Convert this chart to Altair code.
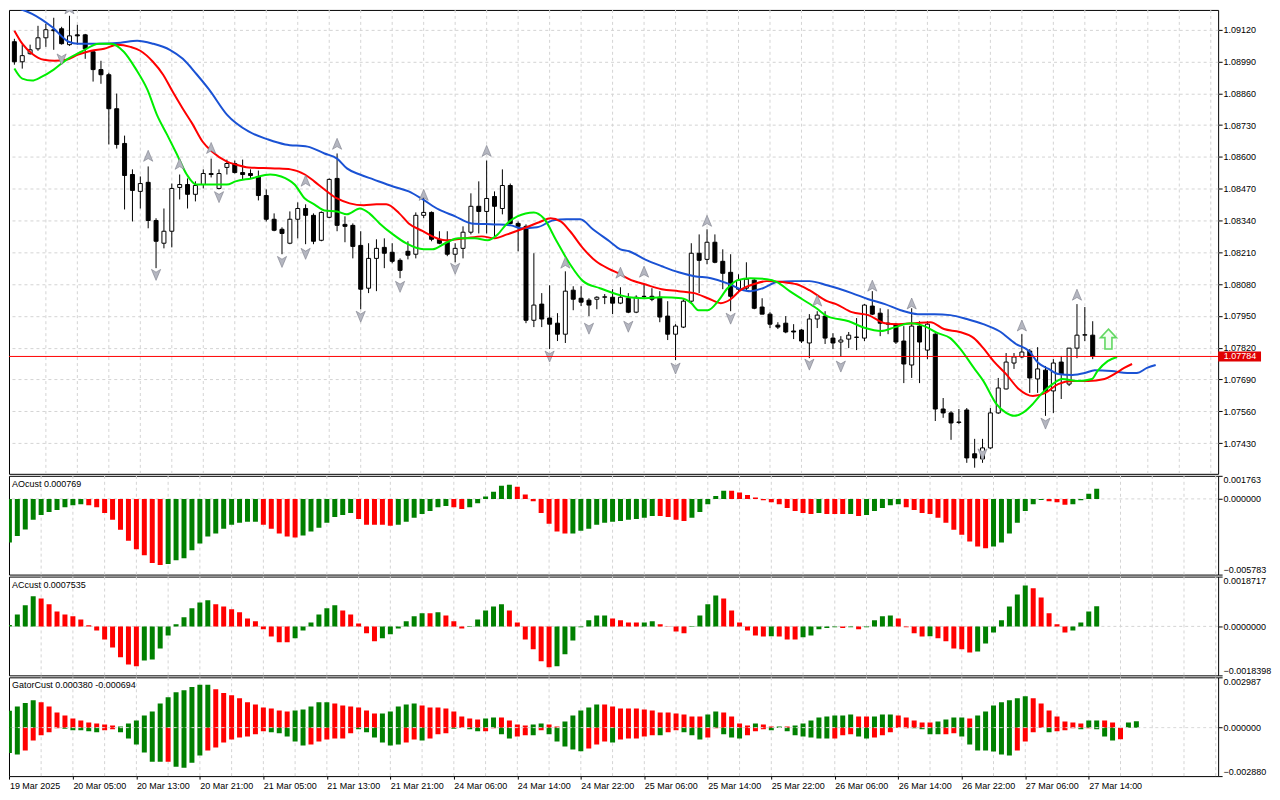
import json
import altair as alt
import pandas as pd

# ---------------- price candles (H1) ----------------
opens = [
1.09071,1.08989,1.09022,1.09042,1.09087,1.09120,1.09124,1.09059,1.09099,1.09099,
1.09030,1.08957,1.08936,1.08797,1.08655,1.08528,1.08459,1.08496,1.08340,1.08247,
1.08296,1.08475,1.08487,1.08447,1.08487,1.08528,1.08471,1.08557,1.08573,1.08536,
1.08532,1.08520,1.08442,1.08345,1.08304,1.08247,1.08345,1.08389,1.08361,1.08259,
1.08353,1.08512,1.08324,1.08320,1.08238,1.08063,1.08185,1.08230,1.08210,1.08177,
1.08214,1.08202,1.08361,1.08373,1.08263,1.08251,1.08202,1.08226,1.08292,1.08398,
1.08377,1.08438,1.08389,1.08483,1.08328,1.08316,1.07932,1.07998,1.07941,1.07920,
1.07875,1.08055,1.08022,1.08014,1.08018,1.08026,1.08026,1.08002,1.08022,1.07965,
1.08030,1.08030,1.08026,1.07949,1.07875,1.07904,1.08010,1.08206,1.08181,1.08251,
1.08173,1.08128,1.08059,1.08063,1.08096,1.07986,1.07957,1.07912,1.07920,1.07888,
1.07892,1.07839,1.07937,1.07949,1.07859,1.07843,1.07855,1.07863,1.07859,1.07990,
1.07961,1.07920,1.07916,1.07847,1.07749,1.07908,1.07810,1.07875,1.07569,1.07553,
1.07516,1.07565,1.07386,1.07365,1.07410,1.07553,1.07651,1.07757,1.07782,1.07806,
1.07692,1.07728,1.07643,1.07761,1.07671,1.07818,1.07871,1.07871]
highs = [
1.09083,1.09059,1.09059,1.09136,1.09144,1.09169,1.09132,1.09177,1.09140,1.09103,
1.09030,1.08993,1.08944,1.08859,1.08687,1.08549,1.08520,1.08561,1.08349,1.08389,
1.08491,1.08528,1.08512,1.08500,1.08549,1.08593,1.08549,1.08589,1.08585,1.08589,
1.08549,1.08544,1.08467,1.08369,1.08312,1.08377,1.08414,1.08406,1.08369,1.08377,
1.08512,1.08614,1.08357,1.08328,1.08296,1.08247,1.08263,1.08267,1.08247,1.08185,
1.08255,1.08373,1.08438,1.08377,1.08296,1.08296,1.08247,1.08316,1.08451,1.08500,
1.08585,1.08459,1.08549,1.08491,1.08336,1.08324,1.08206,1.08043,1.08075,1.07961,
1.08132,1.08071,1.08071,1.08022,1.08030,1.08039,1.08059,1.08067,1.08043,1.08034,
1.08079,1.08063,1.08051,1.08010,1.07916,1.08018,1.08247,1.08283,1.08304,1.08283,
1.08222,1.08202,1.08120,1.08169,1.08100,1.08022,1.07965,1.07924,1.07949,1.07916,
1.07896,1.07957,1.07969,1.07969,1.07879,1.07867,1.07884,1.07941,1.07998,1.08051,
1.07981,1.07977,1.07920,1.07908,1.07981,1.07928,1.07928,1.07879,1.07614,1.07561,
1.07569,1.07573,1.07447,1.07447,1.07573,1.07696,1.07798,1.07798,1.07875,1.07814,
1.07822,1.07745,1.07773,1.07786,1.07818,1.07998,1.07986,1.07928]
lows = [
1.08977,1.08961,1.09018,1.09034,1.09050,1.09038,1.09059,1.09054,1.09059,1.09001,
1.08908,1.08899,1.08651,1.08634,1.08385,1.08336,1.08389,1.08308,1.08145,1.08226,
1.08230,1.08426,1.08389,1.08418,1.08471,1.08516,1.08467,1.08528,1.08532,1.08508,
1.08512,1.08422,1.08336,1.08296,1.08202,1.08243,1.08267,1.08243,1.08243,1.08255,
1.08349,1.08296,1.08251,1.08185,1.07977,1.08043,1.08051,1.08145,1.08165,1.08104,
1.08181,1.08185,1.08349,1.08255,1.08243,1.08194,1.08169,1.08185,1.08283,1.08287,
1.08287,1.08267,1.08365,1.08324,1.08214,1.07920,1.07904,1.07904,1.07814,1.07847,
1.07839,1.07973,1.07990,1.07949,1.07977,1.07998,1.07957,1.07998,1.07961,1.07961,
1.08022,1.08010,1.07924,1.07851,1.07769,1.07900,1.08002,1.08043,1.08161,1.08165,
1.08059,1.07969,1.08043,1.08051,1.07977,1.07957,1.07900,1.07896,1.07879,1.07855,
1.07839,1.07777,1.07900,1.07835,1.07814,1.07782,1.07818,1.07810,1.07847,1.07953,
1.07867,1.07875,1.07835,1.07675,1.07696,1.07675,1.07773,1.07520,1.07533,1.07443,
1.07508,1.07349,1.07329,1.07349,1.07406,1.07549,1.07649,1.07733,1.07777,1.07635,
1.07635,1.07541,1.07553,1.07610,1.07663,1.07777,1.07847,1.07773]
closes = [
1.08989,1.09014,1.09038,1.09087,1.09120,1.09116,1.09063,1.09095,1.09095,1.09042,
1.08957,1.08936,1.08797,1.08651,1.08524,1.08463,1.08491,1.08340,1.08255,1.08296,
1.08471,1.08487,1.08447,1.08483,1.08532,1.08532,1.08532,1.08573,1.08536,1.08528,
1.08524,1.08442,1.08345,1.08300,1.08287,1.08345,1.08389,1.08361,1.08255,1.08373,
1.08508,1.08320,1.08316,1.08234,1.08059,1.08185,1.08226,1.08206,1.08173,1.08136,
1.08198,1.08361,1.08373,1.08263,1.08247,1.08202,1.08226,1.08292,1.08398,1.08377,
1.08430,1.08398,1.08483,1.08328,1.08316,1.07932,1.07994,1.07937,1.07916,1.07875,
1.08051,1.08018,1.08006,1.07994,1.08026,1.08028,1.08002,1.08026,1.07965,1.08026,
1.08029,1.08018,1.07945,1.07875,1.07908,1.08010,1.08206,1.08177,1.08251,1.08169,
1.08124,1.08030,1.08096,1.08100,1.07981,1.07957,1.07916,1.07904,1.07884,1.07884,
1.07847,1.07937,1.07953,1.07859,1.07839,1.07851,1.07871,1.07862,1.07994,1.07957,
1.07920,1.07916,1.07843,1.07753,1.07908,1.07843,1.07916,1.07569,1.07553,1.07512,
1.07514,1.07369,1.07369,1.07410,1.07553,1.07655,1.07761,1.07782,1.07802,1.07696,
1.07733,1.07643,1.07757,1.07712,1.07818,1.07871,1.07873,1.07784]

# ---------------- alligator lines (bar index, price) ----------------
jaw_i = [0,2.25,4.75,6.9,8.1,10.6,13.5,15.6,17.6,19.75,21.4,23.1,24.75,27,29.75,32.25,34.4,37.25,39.4,41,
         42.25,43.9,45.6,48.1,50.1,51.9,53.9,56,58.1,61,63.1,64.4,66.4,68.5,70.1,71.9,73.5,75.6,77,78.1,
         80.1,82.25,84.4,86.4,88.5,90.6,92.25,93.5,95.1,96.9,98.9,101,103.25,106.4,108.5,110.6,112.6,114.75,116.9,118.9,
         121,123.1,125.1,127.25,128.9,130.1,131.4,132.6,134.4,136,137.25,139.4,141.4,142.6,143.9,145]
jaw_p = [1.09212,1.09185,1.09132,1.09071,1.09063,1.09063,1.09067,1.09075,1.09063,1.09038,1.09001,1.08940,1.08875,1.08773,1.08704,
         1.08671,1.08651,1.08642,1.08614,1.08593,1.08553,1.08528,1.08508,1.08479,1.08459,1.08426,1.08385,1.08357,1.08328,1.08324,
         1.08320,1.08308,1.08312,1.08341,1.08345,1.08345,1.08304,1.08255,1.08222,1.08214,1.08181,1.08153,1.08128,1.08112,1.08104,
         1.08083,1.08059,1.08051,1.08063,1.08088,1.08092,1.08092,1.08075,1.08043,1.08018,1.07998,1.07973,1.07957,1.07957,1.07953,
         1.07937,1.07916,1.07888,1.07835,1.07806,1.07757,1.07733,1.07712,1.07708,1.07716,1.07728,1.07724,1.07716,1.07716,1.07737,1.07749]
teeth_i = [0,1,2.25,3.75,5.1,6.6,8.1,9.75,11.4,13.1,14.75,16,17.6,18.9,20.1,21.4,22.6,23.9,25.1,27,
           28.1,29.75,33.1,35.1,36.9,38.1,39.4,41,42.6,44.4,46,47.25,48.9,50.1,51.9,53.1,54.75,57.25,59.4,61,
           62.6,64.75,66.9,68.1,69.4,70.6,72.25,73.9,75.6,77,78.1,80.1,82.25,84.4,86.4,88.1,89.75,91,92.25,93.9,
           95.6,97.6,99.4,101,103.25,104.4,106.4,108.5,110.6,112.25,114.4,116.4,118.1,120.1,121.9,123.1,124.4,126,127.6,129.4,
           131,132.6,134.4,136.4,138.5,139.75,141,142]
teeth_p = [1.09116,1.09063,1.09022,1.08997,1.08993,1.08997,1.09018,1.09034,1.09042,1.09059,1.09050,1.09034,1.08989,1.08936,1.08867,
           1.08797,1.08736,1.08663,1.08622,1.08581,1.08569,1.08557,1.08553,1.08549,1.08528,1.08500,1.08467,1.08430,1.08410,1.08402,
           1.08406,1.08406,1.08369,1.08328,1.08296,1.08275,1.08259,1.08267,1.08275,1.08267,1.08283,1.08308,1.08336,1.08349,1.08336,
           1.08296,1.08226,1.08173,1.08141,1.08120,1.08100,1.08079,1.08059,1.08051,1.08043,1.08022,1.08002,1.08018,1.08055,1.08079,
           1.08092,1.08088,1.08079,1.08055,1.08010,1.07998,1.07965,1.07953,1.07920,1.07916,1.07920,1.07924,1.07896,1.07884,1.07859,
           1.07818,1.07765,1.07712,1.07651,1.07622,1.07635,1.07671,1.07684,1.07684,1.07692,1.07712,1.07737,1.07753]
lips_i = [0,1,2.25,3.5,5,6.6,8.5,10.75,12.25,13.9,15.4,16.9,18.1,19.4,20.6,21.9,23.1,24.75,27,28.1,
          30.1,32.5,33.9,35.6,36.9,38.1,39.4,41,42.25,43.9,45.1,46.4,48.1,49.75,52,53.1,54.75,56.4,58.5,60.1,
          61.4,62.6,63.9,66,67.25,68.9,70.6,72.25,74.4,77,78.1,80.1,82.25,84.75,86,86.9,88.1,89.4,90.6,91.9,
          93.5,95.6,96.9,98.5,100.1,101.9,103.25,106,108.1,110.1,111.9,113.9,115.6,117.25,118.9,120.1,121.9,123.1,124.75,126,
          127,128.1,129.4,130.6,131.9,133.1,135.1,136.9,137.6,138.9,140.1]
lips_p = [1.08961,1.08920,1.08912,1.08928,1.08957,1.08997,1.09030,1.09063,1.09063,1.09030,1.08961,1.08875,1.08773,1.08691,1.08614,
          1.08528,1.08487,1.08487,1.08487,1.08500,1.08512,1.08528,1.08520,1.08487,1.08430,1.08406,1.08381,1.08377,1.08365,1.08389,
          1.08369,1.08328,1.08283,1.08247,1.08222,1.08222,1.08247,1.08267,1.08267,1.08259,1.08283,1.08328,1.08357,1.08373,1.08349,
          1.08255,1.08161,1.08092,1.08063,1.08034,1.08026,1.08022,1.08026,1.08022,1.08002,1.07973,1.07973,1.08010,1.08063,1.08096,
          1.08104,1.08100,1.08088,1.08051,1.08018,1.07981,1.07949,1.07928,1.07900,1.07888,1.07904,1.07920,1.07908,1.07880,1.07859,
          1.07818,1.07737,1.07684,1.07590,1.07553,1.07541,1.07553,1.07590,1.07635,1.07671,1.07692,1.07684,1.07692,1.07724,1.07765,1.07782]

# ---------------- fractals ----------------
frac_up_i = [7,17,21,25,37,41,52,60,70,77,80,88,102,109,114,128,135]
frac_up_p = [1.09205,1.08602,1.08569,1.08634,1.08500,1.08651,1.08442,1.08622,1.08165,1.08124,1.08128,1.08336,1.08010,1.08071,1.07998,1.07908,1.08034]
frac_dn_i = [6,18,26,34,37,44,49,56,68,73,78,84,91,101,105,123,131]
frac_dn_p = [1.09001,1.08120,1.08438,1.08173,1.08206,1.07949,1.08071,1.08145,1.07786,1.07900,1.07908,1.07737,1.07941,1.07753,1.07745,1.07386,1.07512]
signal_i = [139]
signal_p = [1.07855]
last_price = [1.07784]

# ---------------- AO ----------------
ao = [-0.00333,-0.00283,-0.00233,-0.00160,-0.00123,-0.00100,-0.00085,-0.00063,-0.00048,-0.00040,
      -0.00048,-0.00063,-0.00108,-0.00160,-0.00235,-0.00320,-0.00385,-0.00430,-0.00490,-0.00505,
      -0.00498,-0.00468,-0.00453,-0.00393,-0.00340,-0.00288,-0.00265,-0.00228,-0.00198,-0.00183,
      -0.00175,-0.00175,-0.00198,-0.00228,-0.00265,-0.00288,-0.00295,-0.00280,-0.00250,-0.00220,
      -0.00183,-0.00138,-0.00123,-0.00108,-0.00153,-0.00198,-0.00198,-0.00198,-0.00205,-0.00198,
      -0.00175,-0.00145,-0.00115,-0.00093,-0.00063,-0.00055,-0.00063,-0.00078,-0.00063,-0.00033,
      0.00018,0.00055,0.00100,0.00108,0.00093,0.00033,-0.00018,-0.00108,-0.00190,-0.00250,
      -0.00265,-0.00265,-0.00243,-0.00228,-0.00198,-0.00183,-0.00175,-0.00168,-0.00160,-0.00153,
      -0.00145,-0.00130,-0.00130,-0.00138,-0.00160,-0.00168,-0.00145,-0.00100,-0.00040,0.00023,
      0.00063,0.00063,0.00048,0.00030,0.00010,-0.00010,-0.00025,-0.00040,-0.00070,-0.00093,
      -0.00108,-0.00115,-0.00108,-0.00115,-0.00115,-0.00115,-0.00115,-0.00130,-0.00123,-0.00093,
      -0.00070,-0.00048,-0.00040,-0.00063,-0.00085,-0.00108,-0.00115,-0.00145,-0.00183,-0.00235,
      -0.00273,-0.00325,-0.00363,-0.00378,-0.00363,-0.00333,-0.00265,-0.00183,-0.00093,-0.00040,
      -0.00008,-0.00018,-0.00025,-0.00045,-0.00040,-0.00010,0.00040,0.000769]
ao_col = list("gggggggggg" "rrrrrrrrrr" "gggggggggggg" "rrrrr" "ggggggg" "rrrrr" "ggggggg" "rr"
              "gggggg" "rrrrrrr" "ggggggggggg" "rrrr" "ggggg" "rrrrrrrrrrr" "g" "rrr" "g" "r"
              "ggggg" "rrrrrrrrrrr" "ggggggg" "rrr" "gggg")

# ---------------- AC ----------------
ac = [0.00005,0.00045,0.00079,0.00113,0.00105,0.00083,0.00056,0.00045,0.00038,0.00026,
      0.00004,-0.00015,-0.00049,-0.00079,-0.00116,-0.00143,-0.00150,-0.00128,-0.00124,-0.00083,
      -0.00034,0.00008,0.00034,0.00068,0.00090,0.00098,0.00083,0.00075,0.00064,0.00053,
      0.00030,0.00019,-0.00011,-0.00038,-0.00060,-0.00060,-0.00045,-0.00015,0.00015,0.00045,
      0.00068,0.00079,0.00060,0.00045,0.00011,-0.00026,-0.00056,-0.00045,-0.00030,-0.00008,
      0.00019,0.00038,0.00049,0.00049,0.00053,0.00041,0.00019,-0.00008,0.00001,0.00026,
      0.00060,0.00075,0.00083,0.00060,0.00015,-0.00049,-0.00086,-0.00131,-0.00154,-0.00150,
      -0.00105,-0.00053,-0.00003,0.00023,0.00041,0.00041,0.00030,0.00023,0.00015,0.00015,
      0.00015,0.00019,0.00008,-0.00001,-0.00019,-0.00026,-0.00002,0.00041,0.00083,0.00116,
      0.00105,0.00060,0.00015,-0.00015,-0.00034,-0.00038,-0.00037,-0.00038,-0.00049,-0.00049,
      -0.00041,-0.00034,-0.00011,-0.00006,-0.00003,-0.00006,-0.00003,-0.00011,-0.00003,0.00023,
      0.00038,0.00041,0.00030,-0.00003,-0.00026,-0.00038,-0.00037,-0.00045,-0.00056,-0.00083,
      -0.00086,-0.00098,-0.00094,-0.00064,-0.00023,0.00023,0.00075,0.00120,0.00154,0.00143,
      0.00109,0.00049,0.00008,-0.00023,-0.00015,0.00015,0.00056,0.0007535]
ac_col = list("gggg" "rrrrrrrrrrrrr" "ggggggggg" "rrrrrrrrrr" "gggggg" "rrrrr" "gggggg" "r" "g" "rrr"
              "ggggg" "rrrrrr" "ggggggg" "rrrr" "gg" "rrrr" "gggg" "rrrrrr" "g" "rrr" "ggggg" "r" "g" "r"
              "gggg" "rrrr" "g" "rrrrr" "ggggggg" "rrrrr" "gggg")

# ---------------- Gator ----------------
gator_up = [0.00100,0.00126,0.00146,0.00162,0.00150,0.00126,0.00090,0.00072,0.00054,0.00042,
            0.00030,0.00024,0.00018,0.00012,0.00006,0.00024,0.00042,0.00072,0.00096,0.00144,
            0.00180,0.00210,0.00222,0.00242,0.00254,0.00254,0.00228,0.00206,0.00192,0.00174,
            0.00150,0.00138,0.00120,0.00114,0.00102,0.00096,0.00102,0.00108,0.00126,0.00150,
            0.00150,0.00144,0.00132,0.00126,0.00120,0.00102,0.00084,0.00084,0.00096,0.00126,
            0.00138,0.00144,0.00132,0.00120,0.00120,0.00114,0.00096,0.00066,0.00054,0.00048,
            0.00054,0.00060,0.00060,0.00042,0.00018,0.00012,0.00018,0.00024,0.00018,0.00006,
            0.00036,0.00072,0.00102,0.00120,0.00138,0.00138,0.00126,0.00114,0.00114,0.00114,
            0.00108,0.00102,0.00090,0.00090,0.00084,0.00078,0.00066,0.00066,0.00078,0.00096,
            0.00090,0.00066,0.00024,0.00012,0.00024,0.00018,0.00006,0.00006,0.00006,0.00012,
            0.00024,0.00042,0.00060,0.00066,0.00072,0.00072,0.00078,0.00066,0.00066,0.00066,
            0.00078,0.00078,0.00072,0.00060,0.00042,0.00030,0.00030,0.00036,0.00048,0.00060,
            0.00060,0.00054,0.00072,0.00096,0.00132,0.00150,0.00162,0.00174,0.00186,0.00174,
            0.00144,0.00102,0.00066,0.00036,0.00030,0.00024,0.00042,0.00042,0.00042,0.00030,
            0.0,0.00030,0.00038]
gator_up_col = list("gggg" "rrrrrrrrrr" "gggggggggggg" "rrrrrrrrrr" "ggggg" "rrrrrr" "ggggg" "rrrrrrrr"
                    "gg" "rrrr" "gg" "rr" "ggggg" "rrrrrrrrrrrrr" "gg" "rrrr" "g" "rr" "g" "r" "gggggggg"
                    "rr" "ggg" "rrrrr" "gggg" "r" "ggggggg" "rrrrrrr" "gg" "rrr" "gg")
gator_dn = [-0.00150,-0.00160,-0.00136,-0.00076,-0.00046,-0.00028,-0.00004,-0.00006,-0.00016,-0.00016,
            -0.00022,-0.00028,-0.00016,-0.00010,-0.00028,-0.00064,-0.00100,-0.00148,-0.00202,-0.00202,
            -0.00202,-0.00232,-0.00238,-0.00208,-0.00166,-0.00136,-0.00118,-0.00088,-0.00070,-0.00058,
            -0.00052,-0.00040,-0.00022,-0.00028,-0.00034,-0.00052,-0.00082,-0.00106,-0.00100,-0.00082,
            -0.00070,-0.00064,-0.00064,-0.00034,-0.00010,-0.00028,-0.00058,-0.00088,-0.00106,-0.00100,
            -0.00088,-0.00070,-0.00076,-0.00064,-0.00040,-0.00034,-0.00006,0.0,-0.00010,-0.00022,
            -0.00022,-0.00004,-0.00040,-0.00064,-0.00052,-0.00046,-0.00046,-0.00016,-0.00040,-0.00082,
            -0.00112,-0.00130,-0.00140,-0.00124,-0.00100,-0.00082,-0.00088,-0.00070,-0.00064,-0.00064,
            -0.00052,-0.00046,-0.00046,-0.00028,-0.00016,-0.00028,-0.00046,-0.00070,-0.00058,-0.00004,
            -0.00040,-0.00058,-0.00064,-0.00046,-0.00022,-0.00010,-0.00016,-0.00002,-0.00022,-0.00046,
            -0.00052,-0.00058,-0.00064,-0.00064,-0.00064,-0.00046,-0.00040,-0.00052,-0.00064,-0.00058,
            -0.00046,-0.00028,0.0,-0.00004,-0.00004,-0.00010,-0.00040,-0.00040,-0.00040,-0.00034,
            -0.00052,-0.00100,-0.00136,-0.00136,-0.00142,-0.00160,-0.00166,-0.00136,-0.00082,-0.00028,
            0.0,-0.00028,-0.00022,-0.00016,-0.00004,-0.00010,-0.00004,-0.00010,-0.00052,-0.00076,
            -0.000694,0.0,0.0]
gator_dn_col = list("gg" "rrrrr" "ggggg" "rr" "gggggg" "r" "gg" "g" "g" "rrrrrrrr" "ggggg" "rrrrrr"
                    "gggggg" "rr" "g" "rrr" "gggg" "rr" "gg" "rr" "g" "r" "ggggg" "rrr" "g" "rrrrr" "g"
                    "rr" "ggg" "rr" "ggg" "rrr" "gggggggg" "rrr" "gg" "rrrrr" "gggg" "rr" "ggggggg"
                    "rrrr" "g" "rrr" "g" "r" "ggg" "rrr")

# ---------------- axis labels ----------------
time_labels = ["19 Mar 2025","20 Mar 05:00","20 Mar 13:00","20 Mar 21:00","21 Mar 05:00",
               "21 Mar 13:00","21 Mar 21:00","24 Mar 06:00","24 Mar 14:00","24 Mar 22:00",
               "25 Mar 06:00","25 Mar 14:00","25 Mar 22:00","26 Mar 06:00","26 Mar 14:00",
               "26 Mar 22:00","27 Mar 06:00","27 Mar 14:00"]
price_ticks = [1.07430,1.07560,1.07690,1.07820,1.07950,1.08080,1.08210,1.08340,1.08470,1.08600,
               1.08730,1.08860,1.08990,1.09120]

# ================= build =================
FONT = "Liberation Sans"
FS = 9
GRID = "#d4d4d4"
W = 1212
xs = alt.Scale(domain=[-0.05, 152.3], nice=False, zero=False)
label_idx = [8 * k for k in range(len(time_labels))]
BAR_COLORS = alt.Scale(domain=["g", "r"], range=["#008000", "#ff0000"])


def X(axis=None):
    return alt.X("i:Q", scale=xs, axis=axis)


ys_main = alt.Scale(domain=[1.07304, 1.09201], nice=False, zero=False)
ax_main = alt.Axis(orient="right", values=price_ticks, format=".5f", grid=True, gridDash=[3, 3],
                   gridColor=GRID, domain=False, tickSize=4, tickColor="black", labelPadding=1, title=None)


def YM(field):
    return alt.Y(f"{field}:Q", scale=ys_main, axis=ax_main)


n = len(opens)
candles = pd.DataFrame({"i": list(range(n)), "o": opens, "h": highs, "l": lows, "c": closes})
candles["dir"] = ["up" if c >= o else "dn" for o, c in zip(opens, closes)]

vgrid_df = pd.DataFrame({"i": list(range(4, 153, 4))})


def vgrid(axis=None):
    return alt.Chart(vgrid_df).mark_rule(color=GRID, strokeDash=[3, 3], strokeWidth=1).encode(x=X(axis))


wicks = alt.Chart(candles).mark_rule(color="black", strokeWidth=1, clip=True).encode(
    x=X(), y=YM("l"), y2=alt.Y2("h:Q"))
bodies = alt.Chart(candles).mark_bar(width=4, stroke="black", strokeWidth=1, clip=True).encode(
    x=X(), y=YM("o"), y2=alt.Y2("c:Q"),
    fill=alt.Fill("dir:N", scale=alt.Scale(domain=["up", "dn"], range=["white", "black"]), legend=None))


def line_layer(ix, px, color):
    df = pd.DataFrame({"i": ix, "p": px})
    return alt.Chart(df).mark_line(color=color, strokeWidth=2, interpolate="monotone", clip=True).encode(
        x=X(), y=YM("p"))


jaw = line_layer(jaw_i, jaw_p, "#1a52d4")
teeth = line_layer(teeth_i, teeth_p, "#ff0000")
lips = line_layer(lips_i, lips_p, "#00ee00")

UP_SHAPE = "M0,-1L0.75,0.8L0,0.35L-0.75,0.8Z"
DN_SHAPE = "M0,1L0.75,-0.8L0,-0.35L-0.75,-0.8Z"
fr_up = alt.Chart(pd.DataFrame({"i": frac_up_i, "p": frac_up_p})).mark_point(
    shape=UP_SHAPE, size=150, filled=True, fill="#b4b6c0", stroke="#7c7e8a", strokeWidth=0.6,
    opacity=1, clip=True).encode(x=X(), y=YM("p"))
fr_dn = alt.Chart(pd.DataFrame({"i": frac_dn_i, "p": frac_dn_p})).mark_point(
    shape=DN_SHAPE, size=150, filled=True, fill="#b4b6c0", stroke="#7c7e8a", strokeWidth=0.6,
    opacity=1, clip=True).encode(x=X(), y=YM("p"))

ARROW = "M0,-1L0.8,-0.15L0.35,-0.15L0.35,1L-0.35,1L-0.35,-0.15L-0.8,-0.15Z"
signal = alt.Chart(pd.DataFrame({"i": signal_i, "p": signal_p})).mark_point(
    shape=ARROW, size=400, filled=True, fill="#f2fff2", stroke="#62d862", strokeWidth=1.6,
    opacity=1).encode(x=X(), y=YM("p"))

last_df = pd.DataFrame({"p": last_price, "t": [f"{last_price[0]:.5f}"]})
price_line = alt.Chart(last_df).mark_rule(color="#ff0000", strokeWidth=1).encode(y=YM("p"))
TAG = "M0,-0.233L2,-0.233L2,0.233L0,0.233Z"
price_tag = alt.Chart(last_df).mark_point(shape=TAG, size=1849, filled=True, fill="#e00000",
                                          opacity=1, clip=False).encode(x=alt.value(W), y=YM("p"))
price_txt = alt.Chart(last_df).mark_text(color="white", font=FONT, fontSize=FS, align="center",
                                         baseline="middle", clip=False).encode(
    x=alt.value(W + 22), y=YM("p"), text="t:N")

main = alt.layer(vgrid(), wicks, bodies, jaw, teeth, lips, fr_up, fr_dn, price_line, signal,
                 price_tag, price_txt).properties(width=W, height=465)


def sub_panel(df, domain, fmt, title, xaxis=None, zero_on_top=False):
    yax = alt.Axis(orient="right", values=[domain[0], 0, domain[1]], format=fmt, grid=False,
                   domain=False, tickSize=4, tickColor="black", labelFlush=True, labelPadding=1,
                   title=None)
    ysc = alt.Scale(domain=domain, nice=False, zero=False)
    zero = alt.Chart(pd.DataFrame({"z": [0.0]})).mark_rule(
        color="#dadada" if zero_on_top else GRID, strokeDash=[3, 3], strokeWidth=1).encode(
        y=alt.Y("z:Q", scale=ysc, axis=yax))
    bars = alt.Chart(df).mark_rule(strokeWidth=5, clip=True).encode(
        x=X(xaxis), y=alt.Y("v:Q", scale=ysc, axis=yax), y2=alt.datum(0),
        stroke=alt.Stroke("col:N", scale=BAR_COLORS, legend=None))
    ttl = alt.Chart(pd.DataFrame({"t": [title]})).mark_text(
        align="left", baseline="middle", font=FONT, fontSize=FS, color="black").encode(
        x=alt.value(3), y=alt.value(8), text="t:N")
    layers = [vgrid(xaxis), bars, zero, ttl] if zero_on_top else [vgrid(xaxis), zero, bars, ttl]
    return alt.layer(*layers).properties(width=W, height=99)


ao_df = pd.DataFrame({"i": list(range(len(ao))), "v": ao, "col": ao_col})
ao_chart = sub_panel(ao_df, [-0.005783, 0.001763], ".6f", "AOcust 0.000769")

ac_df = pd.DataFrame({"i": list(range(len(ac))), "v": ac, "col": ac_col})
ac_chart = sub_panel(ac_df, [-0.0018398, 0.0018717], ".7f", "ACcust 0.0007535")

x_axis = alt.Axis(values=label_idx, labelExpr=json.dumps(time_labels) + "[round(datum.value/8)]",
                  grid=False, domain=False, ticks=True, tickSize=3, tickColor="black",
                  labelAlign="left", labelPadding=2, labelFlush=False, labelOverlap=False,
                  labelBound=False, title=None)
gdf = pd.DataFrame({"i": list(range(len(gator_up))) + list(range(len(gator_dn))),
                    "v": gator_up + gator_dn, "col": gator_up_col + gator_dn_col})
gator_chart = sub_panel(gdf, [-0.002880, 0.002987], ".6f", "GatorCust 0.000380 -0.000694",
                        xaxis=x_axis, zero_on_top=True)

chart = alt.vconcat(main, ao_chart, ac_chart, gator_chart, spacing=0, padding=0,
                    background="white").resolve_scale(
    x="independent", y="independent", color="independent", fill="independent",
    stroke="independent").configure_view(stroke="black", strokeWidth=1).configure_axis(
    labelFont=FONT, labelFontSize=FS, labelColor="black")

chart.save("out.html", embed_options={"renderer": "svg", "actions": False})
